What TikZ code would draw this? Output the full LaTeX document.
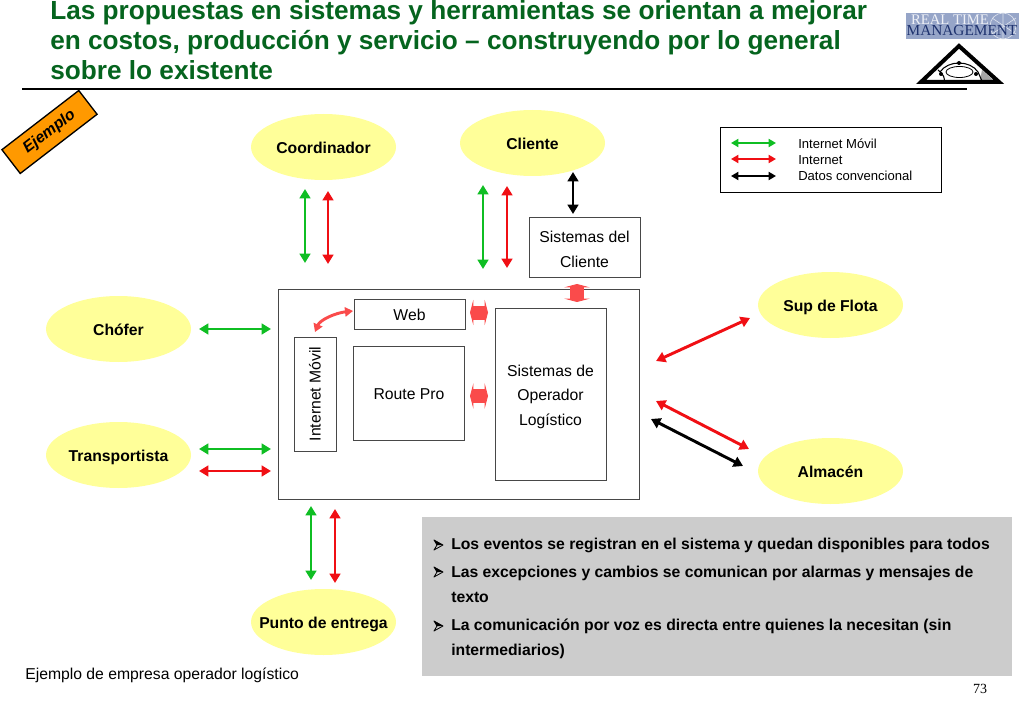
\documentclass[tikz,border=0pt]{standalone}
\usepackage{fontspec}
\setmainfont{Liberation Sans}
\newfontfamily\serifface{Liberation Serif}
\usetikzlibrary{shapes.geometric,arrows.meta,calc}
\definecolor{titlegreen}{RGB}{5,100,30}
\definecolor{pale}{RGB}{255,255,153}
\definecolor{ggreen}{RGB}{15,190,35}
\definecolor{rred}{RGB}{240,15,20}
\definecolor{soft}{RGB}{250,75,75}
\definecolor{boxgray}{RGB}{204,204,204}
\definecolor{tagorange}{RGB}{255,153,0}
\definecolor{logoblue}{RGB}{150,165,200}
\definecolor{logodark}{RGB}{30,50,110}
\tikzset{
 blob/.style={ellipse,fill=pale,minimum width=145*0.75pt,minimum height=66*0.75pt,inner xsep=-20pt,inner ysep=0pt,text height=12.3pt,text depth=2.5pt,font=\fontsize{11.8}{13}\selectfont\bfseries},
 sbox/.style={draw=black!72,line width=0.75pt,inner sep=0pt,font=\fontsize{11.8}{13}\selectfont,align=center},
 boxtext/.style={inner sep=0pt,align=center,font=\fontsize{11.8}{18.4}\selectfont},
 link/.style={line width=2.2pt,{Triangle[length=7pt,width=8pt]}-{Triangle[length=7pt,width=8pt]}},
 thinlink/.style={line width=1.6pt,{Triangle[length=5.5pt,width=6pt]}-{Triangle[length=5.5pt,width=6pt]}},
 gl/.style={link,draw=ggreen},
 rl/.style={link,draw=rred},
 bl/.style={link,draw=black},
 fat/.style={line width=10.5pt,draw=soft,{Stealth[length=2.5pt,width=19pt,inset=0pt]}-{Stealth[length=2.5pt,width=19pt,inset=0pt]}},
 titletext/.style={anchor=base west,inner sep=0pt,text=titlegreen,font=\fontsize{19.65}{22}\selectfont\bfseries},
 bul/.style={anchor=base west,inner sep=0pt,font=\fontsize{11.8}{13}\selectfont\bfseries},
 legtext/.style={anchor=base west,inner sep=0pt,font=\fontsize{9.8}{12}\selectfont}
}
\begin{document}
\begin{tikzpicture}[x=0.75pt,y=-0.75pt]
\useasboundingbox (0,0) rectangle (1024,709);
% title
\node[titletext] (t1) at (50,20) {Las propuestas en sistemas y herramientas se orientan a mejorar};
\node[titletext] (t2) at (50,50) {en costos, producción y servicio – construyendo por lo general};
\node[titletext] (t3) at (50,80) {sobre lo existente};
\coordinate (ruleL) at (22,89);
\coordinate (ruleR) at (967,89);
\draw[line width=1.5pt] (ruleL) -- (ruleR);
% logo
\node[fill=logoblue,minimum width=113*0.75pt,minimum height=26*0.75pt,inner sep=0pt] (logo) at (962.5,26) {};
\draw[white!70!logoblue,line width=0.5pt] (1003,26) circle (13);
\draw[white!70!logoblue,line width=0.5pt] (992,18) -- (1016,34) (992,34) -- (1016,18) (1003,13) -- (1003,39);
\node[inner sep=0pt,text=white!85!logoblue,font=\serifface\fontsize{11}{11}\selectfont] (logoa) at (950,20) {REAL TIME};
\node[inner sep=0pt,text=logodark,font=\serifface\fontsize{11.5}{11.5}\selectfont] (logob) at (962,31) {MANAGEMENT};
\fill[white] (959,46) -- (921,82) -- (999,82) -- cycle;
\fill[gray!70] (980,80) -- (993,80) -- (982,70) -- cycle;
\draw[line width=0.6pt] (959.5,72) ellipse (13.5 and 5.5);
\draw[line width=0.8pt] (940,72) .. controls (948,60) and (970,60) .. (978,72);
\draw[line width=0.8pt] (938,70) .. controls (944,75) and (945,78) .. (944,82);
\draw[line width=0.8pt] (978,72) -- (982,81);
\fill (959,63) circle (2); \fill (941,74) circle (2); \fill (976,74) circle (2);
\draw[line width=3pt,line join=miter] (959,46) -- (921,82) -- (999,82) -- cycle;
% Ejemplo tag
\node[draw=black,fill=tagorange,line width=1pt,rotate=37.6,minimum width=97*0.75pt,minimum height=30*0.75pt,inner sep=0pt,font=\fontsize{11.8}{13}\selectfont\bfseries\itshape] (tag) at (49.5,132) {Ejemplo};
% ellipses
\node[blob] (coord) at (323.5,147) {Coordinador};
\node[blob] (cli) at (532.5,143) {Cliente};
\node[blob] (chof) at (118.5,329) {Chófer};
\node[blob] (trans) at (118.5,455) {Transportista};
\node[blob] (flota) at (830.5,305) {Sup de Flota};
\node[blob] (alm) at (830.5,471) {Almacén};
\node[blob] (punto) at (323.5,622) {Punto de entrega};
% legend
\node[draw=black,line width=0.7pt,minimum width=221*0.75pt,minimum height=65*0.75pt,inner sep=0pt] (leg) at (830.5,160) {};
\node[legtext] (lg1) at (798,149) {Internet Móvil};
\node[legtext] (lg2) at (798,165) {Internet};
\node[legtext] (lg3) at (798,181) {Datos convencional};
\coordinate (l1a) at (731,143); \coordinate (l1b) at (776,143);
\coordinate (l2a) at (731,159); \coordinate (l2b) at (776,159);
\coordinate (l3a) at (731,176); \coordinate (l3b) at (776,176);
\draw[thinlink,draw=ggreen] (l1a) -- (l1b);
\draw[thinlink,draw=rred] (l2a) -- (l2b);
\draw[thinlink,draw=black] (l3a) -- (l3b);
% boxes
\node[sbox,minimum width=361*0.75pt,minimum height=210*0.75pt] (outer) at (458.5,394.5) {};
\node[sbox,minimum width=111*0.75pt,minimum height=60*0.75pt] (sc) at (584.5,247.5) {};
\node[boxtext] (sct) at (584.5,249.5) {Sistemas del\\Cliente};
\node[sbox,minimum width=111*0.75pt,minimum height=30*0.75pt,text height=12pt,text depth=2.5pt] (web) at (409.5,314) {Web};
\node[sbox,minimum width=111*0.75pt,minimum height=94*0.75pt,text height=12pt,text depth=2.5pt] (route) at (409,393.5) {Route Pro};
\node[sbox,minimum width=111*0.75pt,minimum height=172*0.75pt] (op) at (550.5,394) {};
\node[boxtext] (opt) at (550.5,396.5) {Sistemas de\\Operador\\Logístico};
\node[sbox,rotate=90,minimum width=114*0.75pt,minimum height=42*0.75pt] (im) at (315,394) {Internet Móvil};
% gray panel
\node[fill=boxgray,minimum width=590*0.75pt,minimum height=159*0.75pt,inner sep=0pt] (panel) at (716.5,596.5) {};
\node[bul] (b1) at (451,549) {Los eventos se registran en el sistema y quedan disponibles para todos};
\node[bul] (b2) at (451,577) {Las excepciones y cambios se comunican por alarmas y mensajes de};
\node[bul] (b2b) at (451,602) {texto};
\node[bul] (b3) at (451,630) {La comunicación por voz es directa entre quienes la necesitan (sin};
\node[bul] (b3b) at (451,655) {intermediarios)};
\foreach \yy in {545,572,626}{
 \fill (434,\yy-5) -- (443,\yy) -- (437,\yy) -- cycle;
 \draw[line width=0.6pt,line join=round] (434,\yy-5) -- (443,\yy) -- (434,\yy+5) -- (437,\yy) -- cycle;
}
% footer
\node[anchor=base west,inner sep=0pt,font=\fontsize{11.8}{13}\selectfont] (foot) at (25,679) {Ejemplo de empresa operador logístico};
\node[inner sep=0pt,font=\serifface\fontsize{10.5}{12}\selectfont] (pg) at (980,689) {73};
% free ends
\coordinate (a1) at (305,189); \coordinate (a2) at (305,263);
\coordinate (a3) at (328,191); \coordinate (a4) at (328,264);
\coordinate (b5) at (483,185); \coordinate (b6) at (483,269);
\coordinate (b7) at (507,186); \coordinate (b8) at (507,268);
\coordinate (c1) at (573,172); \coordinate (c2) at (573,214);
\coordinate (d1) at (199,329); \coordinate (d2) at (271,329);
\coordinate (e1) at (199,449); \coordinate (e2) at (271,449);
\coordinate (e3) at (199,471); \coordinate (e4) at (271,471);
\coordinate (f1) at (656,361); \coordinate (f2) at (750,318);
\coordinate (g1) at (656,401); \coordinate (g2) at (749,449);
\coordinate (h1) at (651,419); \coordinate (h2) at (743,466);
\coordinate (i1) at (311,506); \coordinate (i2) at (311,580);
\coordinate (j1) at (335,509); \coordinate (j2) at (335,583);
\draw[gl] (a1) -- (a2);
\draw[rl] (a3) -- (a4);
\draw[gl] (b5) -- (b6);
\draw[rl] (b7) -- (b8);
\draw[bl] (c1) -- (c2);
\draw[gl] (d1) -- (d2);
\draw[gl] (e1) -- (e2);
\draw[rl] (e3) -- (e4);
\draw[rl] (f1) -- (f2);
\draw[rl] (g1) -- (g2);
\draw[bl] (h1) -- (h2);
\draw[gl] (i1) -- (i2);
\draw[rl] (j1) -- (j2);
% fat connectors
\coordinate (k1) at (577,284); \coordinate (k2) at (577,302);
\coordinate (k3) at (470,312.5); \coordinate (k4) at (488,312.5);
\coordinate (k5) at (470,396); \coordinate (k6) at (488,396);
\draw[fat] (k1) -- (k2);
\draw[fat] (k3) -- (k4);
\draw[fat] (k5) -- (k6);
\coordinate (m1) at (315,332); \coordinate (m2) at (353,311);
\draw[draw=soft,line width=2.2pt,{Triangle[length=6pt,width=7pt]}-{Triangle[length=6pt,width=7pt]}] (m1) .. controls (320,320) and (335,313) .. (m2);
\end{tikzpicture}
\end{document}
